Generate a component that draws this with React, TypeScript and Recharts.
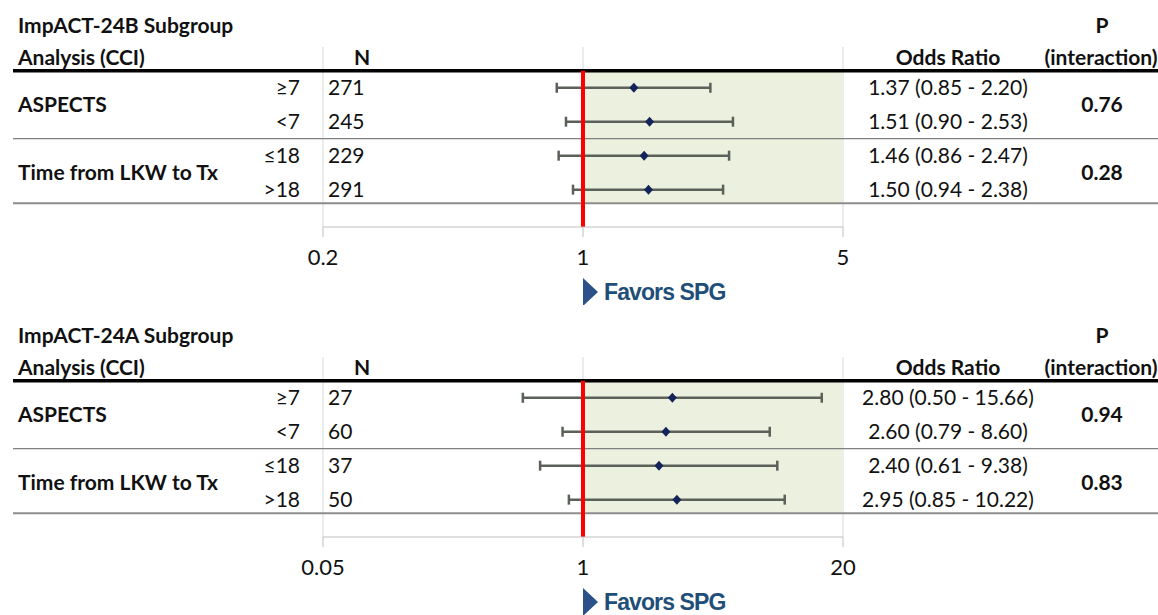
import {
  CartesianGrid,
  ErrorBar,
  ReferenceArea,
  ReferenceLine,
  Scatter,
  ScatterChart,
  XAxis,
  YAxis,
} from "recharts";

const FONT = "Lato, 'Open Sans', sans-serif";

// rows shared by both panels
const subLabels = ["≥7", "<7", "≤18", ">18"];
const groupLabels = ["ASPECTS", "Time from LKW to Tx"];
const rowPos = [0.5, 1.5, 2.5, 3.5];
const groupPos = [1, 3];

// ImpACT-24B
const nB = [271, 245, 229, 291];
const orB = [1.37, 1.51, 1.46, 1.5];
const loB = [0.85, 0.9, 0.86, 0.94];
const hiB = [2.2, 2.53, 2.47, 2.38];
const pB = ["0.76", "0.28"];
const ticksB = [0.2, 1, 5];

// ImpACT-24A
const nA = [27, 60, 37, 50];
const orA = [2.8, 2.6, 2.4, 2.95];
const loA = [0.5, 0.79, 0.61, 0.85];
const hiA = [15.66, 8.6, 9.38, 10.22];
const pA = ["0.94", "0.83"];
const ticksA = [0.05, 1, 20];

const W = 1158;
const H = 305;

interface PanelProps {
  title: string;
  n: number[];
  or: number[];
  lo: number[];
  hi: number[];
  p: string[];
  ticks: number[];
}

const Diamond = (props: any) => {
  const { cx, cy } = props;
  return (
    <polygon
      points={`${cx},${cy - 5} ${cx + 4.5},${cy} ${cx},${cy + 5} ${cx - 4.5},${cy}`}
      fill="#14245a"
    />
  );
};

const fullLine = (color: string, width: number) => (p: any) => (
  <line x1={13} x2={W} y1={p.y1} y2={p.y1} stroke={color} strokeWidth={width} />
);

function Panel({ title, n, or, lo, hi, p, ticks }: PanelProps) {
  const data = or.map((v, i) => ({
    row: rowPos[i],
    or: v,
    err: [v - lo[i], hi[i] - v],
    n: n[i],
    sub: subLabels[i],
    text: `${v.toFixed(2)} (${lo[i].toFixed(2)} - ${hi[i].toFixed(2)})`,
  }));

  const RowTick = (props: any) => {
    const v = props.payload?.value;
    const d = data.find((r) => Math.abs(r.row - v) < 1e-6);
    if (!d) return <g />;
    const common = { y: props.y, dy: "0.36em", fontFamily: FONT, fontSize: 21, fill: "#111" };
    return (
      <g>
        <text {...common} x={300} textAnchor="end">{d.sub}</text>
        <text {...common} x={328}>{d.n}</text>
        <text {...common} x={948} textAnchor="middle">{d.text}</text>
      </g>
    );
  };

  const GroupTick = (props: any) => {
    const v = props.payload?.value;
    const i = groupPos.findIndex((g) => Math.abs(g - v) < 1e-6);
    if (i < 0) return <g />;
    const common = { y: props.y, dy: "0.36em", fontFamily: FONT, fontSize: 21, fontWeight: 700, fill: "#111" };
    return (
      <g>
        <text {...common} x={18}>{groupLabels[i]}</text>
        <text {...common} x={1102} textAnchor="middle">{p[i]}</text>
      </g>
    );
  };

  const head = { fontFamily: FONT, fontSize: 21, fontWeight: 700, fill: "#111" };

  return (
    <div style={{ position: "relative", width: W, height: H }}>
      <ScatterChart width={W} height={H} margin={{ top: 47, right: W - 844, bottom: 48, left: 322 }}>
        <CartesianGrid horizontal={false} stroke="#d9d9d9" />
        <XAxis
          dataKey="or"
          type="number"
          scale="log"
          domain={[ticks[0], ticks[ticks.length - 1]]}
          ticks={ticks}
          interval={0}
          allowDataOverflow
          stroke="#bfbfbf"
          tickSize={10}
          tickMargin={12}
          tick={{ fill: "#111", fontSize: 22, fontFamily: FONT }}
          tickFormatter={(v) => String(v)}
        />
        <YAxis
          dataKey="row"
          type="number"
          domain={[-0.7, 4.6]}
          reversed
          allowDataOverflow
          width={1}
          ticks={rowPos}
          interval={0}
          axisLine={false}
          tickLine={false}
          tick={RowTick}
        />
        <YAxis
          yAxisId="g"
          orientation="right"
          type="number"
          domain={[-0.7, 4.6]}
          reversed
          allowDataOverflow
          width={1}
          ticks={groupPos}
          interval={0}
          axisLine={false}
          tickLine={false}
          tick={GroupTick}
        />
        <ReferenceArea x1={1} x2={ticks[ticks.length - 1]} y1={0} y2={3.9} fill="#ebf1de" fillOpacity={1} stroke="none" />
        <ReferenceLine y={0} shape={fullLine("#000", 3.5)} />
        <ReferenceLine y={2} shape={fullLine("#808080", 1.2)} />
        <ReferenceLine y={3.9} shape={fullLine("#8c8c8c", 2.2)} />
        <Scatter data={data} shape={Diamond} isAnimationActive={false}>
          <ErrorBar dataKey="err" direction="x" width={5} strokeWidth={2.5} stroke="#5b6058" />
        </Scatter>
        <ReferenceLine
          segment={[{ x: 1, y: 0 }, { x: 1, y: 4.6 }]}
          stroke="#ff0000"
          strokeWidth={4}
        />
      </ScatterChart>
      <svg width={W} height={H} style={{ position: "absolute", left: 0, top: 0, pointerEvents: "none" }}>
        <text {...head} x={18} y={25} dy="0.36em">{title}</text>
        <text {...head} x={18} y={57} dy="0.36em">Analysis (CCI)</text>
        <text {...head} x={362} y={57} dy="0.36em" textAnchor="middle">N</text>
        <text {...head} x={948} y={57} dy="0.36em" textAnchor="middle">Odds Ratio</text>
        <text {...head} x={1102} y={25} dy="0.36em" textAnchor="middle">P</text>
        <text {...head} x={1101} y={57} dy="0.36em" textAnchor="middle">(interaction)</text>
        <polygon points="583,278 598,292 583,306" fill="#2a5188" />
        <text
          x={604}
          y={292}
          dy="0.36em"
          fontFamily="'Liberation Sans', Arial, sans-serif"
          fontWeight={700}
          fontSize={23}
          letterSpacing={-0.9}
          fill="#1f4e79"
        >
          Favors SPG
        </text>
      </svg>
    </div>
  );
}

export default function App() {
  return (
    <div style={{ position: "absolute", left: 0, top: 0, width: W, height: 615, overflow: "hidden", background: "#fff" }}>
      <Panel title="ImpACT-24B Subgroup" n={nB} or={orB} lo={loB} hi={hiB} p={pB} ticks={ticksB} />
      <div style={{ position: "absolute", left: 0, top: 310 }}>
        <Panel title="ImpACT-24A Subgroup" n={nA} or={orA} lo={loA} hi={hiA} p={pA} ticks={ticksA} />
      </div>
    </div>
  );
}
